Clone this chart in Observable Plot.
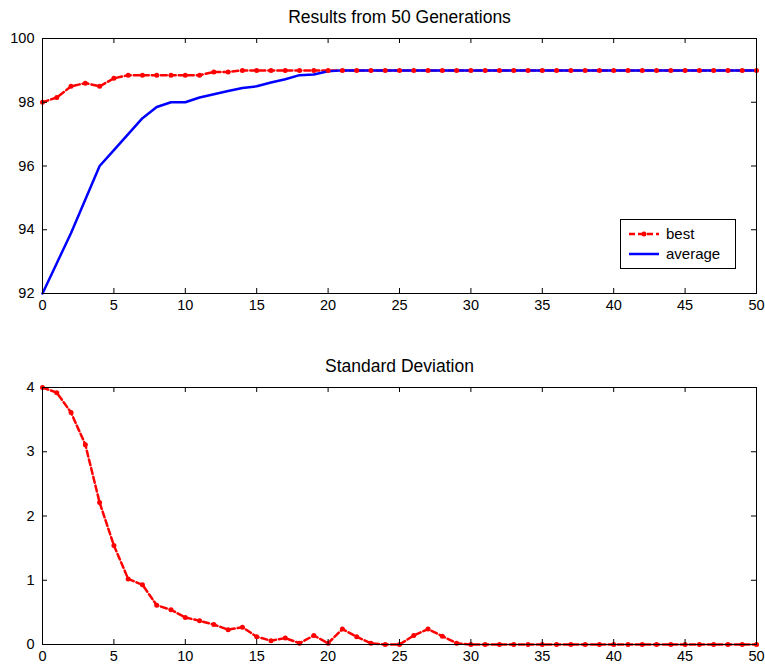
<!DOCTYPE html>
<html>
<head>
<meta charset="utf-8">
<script src="https://cdn.jsdelivr.net/npm/d3@7"></script>
<script src="https://cdn.jsdelivr.net/npm/@observablehq/plot@0.6"></script>
<style>
  html, body { margin: 0; padding: 0; background: #fff; }
  #wrap { position: relative; width: 765px; height: 669px; font-family: "Liberation Sans", Arial, sans-serif; }
  #top, #bottom { position: absolute; left: 0; }
  #top { top: 0; }
  #bottom { top: 330px; }
  #legend { position: absolute; left: 620px; top: 219px; width: 114px; height: 48px; border: 1px solid #000; background: #fff; font-size: 15px; }
  #legend .row { position: absolute; left: 0; height: 20px; width: 114px; }
  #legend svg { position: absolute; left: 6px; top: 0; }
  #legend span { position: absolute; left: 45px; top: 1px; }
</style>
</head>
<body>
<div id="wrap">
  <div id="top"></div>
  <div id="bottom"></div>
  <div id="legend">
    <div class="row" style="top:4px"><svg width="34" height="20"><line x1="2" y1="10" x2="32" y2="10" stroke="#ff0000" stroke-width="2.5" stroke-dasharray="6,3"/><circle cx="17" cy="10" r="2.5" fill="#ff0000"/></svg><span>best</span></div>
    <div class="row" style="top:24px"><svg width="34" height="20"><line x1="2" y1="10" x2="32" y2="10" stroke="#0000ff" stroke-width="2.5"/></svg><span>average</span></div>
  </div>
</div>
<script>
const generations = d3.range(0, 51);
const best = [98, 98.15, 98.5, 98.6, 98.5, 98.75, 98.85, 98.85, 98.85, 98.85, 98.85, 98.85, 98.95, 98.95, 99, 99,
  99, 99, 99, 99, 99, 99, 99, 99, 99, 99, 99, 99, 99, 99, 99, 99, 99, 99, 99, 99, 99, 99, 99, 99, 99, 99, 99, 99, 99, 99, 99, 99, 99, 99, 99];
const average = [92, 92.95, 93.9, 94.95, 96, 96.5, 97, 97.5, 97.85, 98, 98, 98.15, 98.25, 98.35, 98.45, 98.5,
  98.62, 98.72, 98.85, 98.87, 98.97, 99, 99, 99, 99, 99, 99, 99, 99, 99, 99, 99, 99, 99, 99, 99, 99, 99, 99, 99, 99, 99, 99, 99, 99, 99, 99, 99, 99, 99, 99];
const stdDev = [4, 3.92, 3.61, 3.11, 2.21, 1.54, 1.02, 0.93, 0.61, 0.54, 0.42, 0.37, 0.31, 0.23, 0.27, 0.12,
  0.06, 0.1, 0.02, 0.14, 0.02, 0.24, 0.12, 0.02, 0, 0, 0.14, 0.24, 0.13, 0.02,
  0, 0, 0, 0, 0, 0, 0, 0, 0, 0, 0, 0, 0, 0, 0, 0, 0, 0, 0, 0, 0];
const xTicks = [0, 5, 10, 15, 20, 25, 30, 35, 40, 45, 50];
const yTicksTop = [92, 94, 96, 98, 100];
const yTicksBottom = [0, 1, 2, 3, 4];
const titles = ["Results from 50 Generations", "Standard Deviation"];

const topData = generations.map((g, i) => ({g, best: best[i], average: average[i]}));
const sdData = generations.map((g, i) => ({g, sd: stdDev[i]}));

const RED = "#ff0000", BLUE = "#0000ff";
const W = 765, ML = 42, MR = 9;
const fontStyle = {fontFamily: "'Liberation Sans', Arial, sans-serif", fontSize: "14.5px", background: "transparent", color: "#000", overflow: "visible"};

function boxAxes(yTicks, innerH) {
  const innerW = W - ML - MR;
  const T = 5;
  return [
    Plot.frame({stroke: "#000", strokeWidth: 1}),
    Plot.axisX(xTicks, {anchor: "bottom", tickSize: 0, tickPadding: 6, label: null, tickFormat: d => String(d)}),
    Plot.axisY(yTicks, {anchor: "left", tickSize: 0, tickPadding: 8, label: null, tickFormat: d => String(d)}),
    Plot.tickX(xTicks, {x: d => d, stroke: "#000", insetTop: innerH - T}),
    Plot.tickX(xTicks, {x: d => d, stroke: "#000", insetBottom: innerH - T}),
    Plot.tickY(yTicks, {y: d => d, stroke: "#000", insetRight: innerW - T}),
    Plot.tickY(yTicks, {y: d => d, stroke: "#000", insetLeft: innerW - T})
  ];
}

const topH = 330, topMT = 38, topMB = 37;
const topPlot = Plot.plot({
  width: W, height: topH,
  marginTop: topMT, marginBottom: topMB, marginLeft: ML, marginRight: MR,
  style: fontStyle,
  x: {domain: [0, 50]},
  y: {domain: [92, 100]},
  marks: [
    Plot.line(topData, {x: "g", y: "best", stroke: RED, strokeWidth: 2.5, strokeDasharray: "6,3"}),
    Plot.line(topData, {x: "g", y: "average", stroke: BLUE, strokeWidth: 2.5}),
    Plot.dot(topData, {x: "g", y: "best", r: 2.5, fill: RED, stroke: null}),
    ...boxAxes(yTicksTop, topH - topMT - topMB),
    Plot.text([titles[0]], {frameAnchor: "top", lineAnchor: "middle", dy: -21, fontSize: 17.5, fill: "#000"})
  ]
});
document.getElementById("top").appendChild(topPlot);

const botH = 339, botMT = 57, botMB = 25;
const bottomPlot = Plot.plot({
  width: W, height: botH,
  marginTop: botMT, marginBottom: botMB, marginLeft: ML, marginRight: MR,
  style: fontStyle,
  x: {domain: [0, 50]},
  y: {domain: [0, 4]},
  marks: [
    Plot.line(sdData, {x: "g", y: "sd", stroke: RED, strokeWidth: 2.5, strokeDasharray: "6,3"}),
    Plot.dot(sdData, {x: "g", y: "sd", r: 2.5, fill: RED, stroke: null}),
    ...boxAxes(yTicksBottom, botH - botMT - botMB),
    Plot.text([titles[1]], {frameAnchor: "top", lineAnchor: "middle", dy: -21, fontSize: 17.5, fill: "#000"})
  ]
});
document.getElementById("bottom").appendChild(bottomPlot);
</script>
</body>
</html>
